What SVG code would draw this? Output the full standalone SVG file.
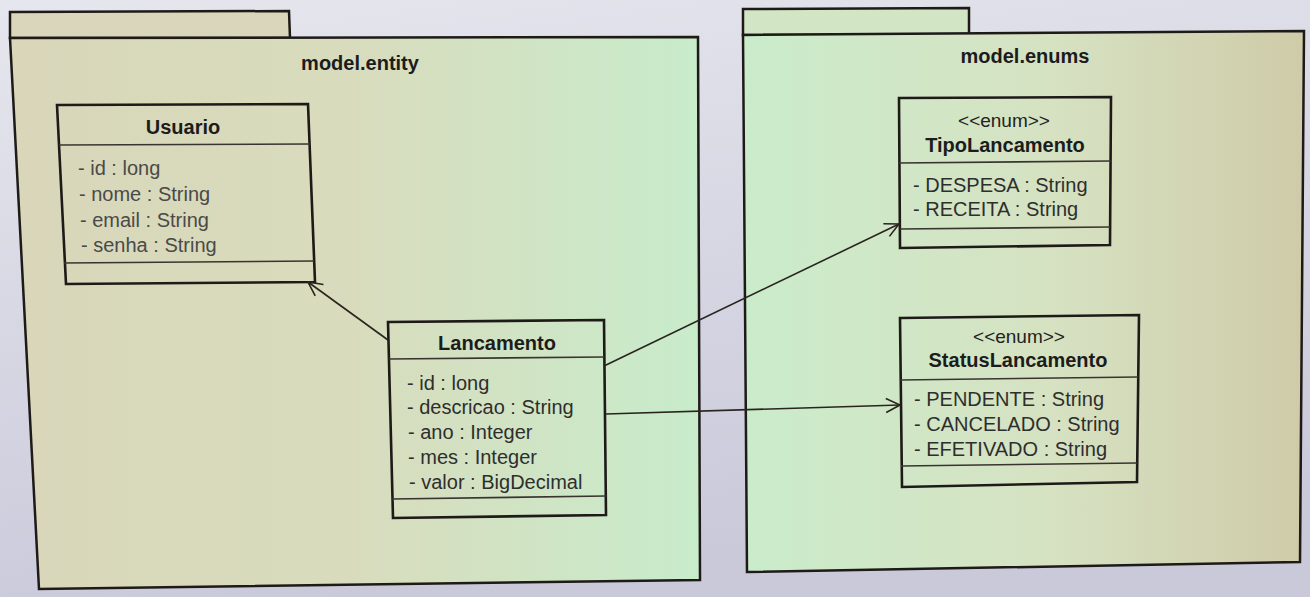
<svg xmlns="http://www.w3.org/2000/svg" width="1310" height="597" viewBox="0 0 1310 597">
<defs>
<linearGradient id="bg" x1="0" y1="0" x2="0.3" y2="1">
<stop offset="0" stop-color="#e6e6ee"/>
<stop offset="1" stop-color="#c9c9da"/>
</linearGradient>
<linearGradient id="pkgL" x1="0" y1="0" x2="1" y2="0">
<stop offset="0" stop-color="#d9d6ba"/>
<stop offset="0.5" stop-color="#d8dcbd"/>
<stop offset="1" stop-color="#c8eccb"/>
</linearGradient>
<linearGradient id="pkgR" x1="0" y1="0" x2="1" y2="0">
<stop offset="0" stop-color="#caeccb"/>
<stop offset="0.55" stop-color="#d6e2c2"/>
<stop offset="1" stop-color="#cfcba8"/>
</linearGradient>
<marker id="open" markerWidth="18" markerHeight="18" refX="15" refY="8" orient="auto" markerUnits="userSpaceOnUse">
<path d="M1,1 L15,8 L1,15" fill="none" stroke="#2a2420" stroke-width="1.6"/>
</marker>
</defs>
<style>
.pkg{stroke:#1e1a18;stroke-width:2.5}
.box{fill:none;stroke:#1e1a18;stroke-width:2.6}
.sep{stroke:#3a3430;stroke-width:1.6}
.ptitle{font-family:"Liberation Sans",Arial,sans-serif;font-size:20px;font-weight:bold;fill:#1c1c1c;text-anchor:middle}
.ctitle{font-family:"Liberation Sans",Arial,sans-serif;font-size:20px;font-weight:bold;fill:#1c1c1c;text-anchor:middle}
.stereo{font-family:"Liberation Sans",Arial,sans-serif;font-size:19px;fill:#222;text-anchor:middle}
.attr{font-family:"Liberation Sans",Arial,sans-serif;font-size:20px;fill:#2e2e2e}
.attrg{font-family:"Liberation Sans",Arial,sans-serif;font-size:20px;fill:#4a4a48}
.conn{fill:none;stroke:#2a2420;stroke-width:1.6}
</style>
<rect x="0" y="0" width="1310" height="597" fill="url(#bg)"/>

<g id="pkg-entity">
<polygon class="pkg" points="10,12 289,11 290,38 10,38" fill="#d9d6bb"/>
<polygon class="pkg" points="10,38 698,37 700,580 39,589" fill="url(#pkgL)"/>
<text class="ptitle" x="360" y="70">model.entity</text>
</g>

<g id="pkg-enums">
<polygon class="pkg" points="743,9 969,8 969,35 743,35" fill="#d2e6c6"/>
<polygon class="pkg" points="743,35 1304,31 1300,562 747,572" fill="url(#pkgR)"/>
<text class="ptitle" x="1025" y="63">model.enums</text>
</g>

<g id="Usuario">
<polygon class="box" points="57,105 308,104 315,282 66,284"/>
<line class="sep" x1="59" y1="145" x2="310" y2="144"/>
<line class="sep" x1="64" y1="263" x2="314" y2="261"/>
<text class="ctitle" x="183" y="134">Usuario</text>
<text class="attrg" x="78" y="175">- id : long</text>
<text class="attrg" x="79" y="201">- nome : String</text>
<text class="attrg" x="80" y="227">- email : String</text>
<text class="attrg" x="81" y="252">- senha : String</text>
</g>

<g id="Lancamento">
<polygon class="box" points="388,322 604,320 606,515 393,518"/>
<line class="sep" x1="389" y1="359" x2="604" y2="357"/>
<line class="sep" x1="392" y1="499" x2="606" y2="496"/>
<text class="ctitle" x="497" y="350">Lancamento</text>
<text class="attr" x="407" y="390">- id : long</text>
<text class="attr" x="407" y="414">- descricao : String</text>
<text class="attr" x="408" y="439">- ano : Integer</text>
<text class="attr" x="408" y="464">- mes : Integer</text>
<text class="attr" x="409" y="489">- valor : BigDecimal</text>
</g>

<g id="TipoLancamento">
<polygon class="box" points="899,98 1111,97 1110,245 900,248"/>
<line class="sep" x1="899" y1="163" x2="1111" y2="161"/>
<line class="sep" x1="900" y1="229" x2="1110" y2="227"/>
<text class="stereo" x="1004" y="127">&lt;&lt;enum&gt;&gt;</text>
<text class="ctitle" x="1005" y="152">TipoLancamento</text>
<text class="attr" x="913" y="192">- DESPESA : String</text>
<text class="attr" x="913" y="216">- RECEITA : String</text>
</g>

<g id="StatusLancamento">
<polygon class="box" points="900,318 1139,315 1137,482 902,487"/>
<line class="sep" x1="900" y1="380" x2="1138" y2="377"/>
<line class="sep" x1="901" y1="466" x2="1137" y2="463"/>
<text class="stereo" x="1019" y="343">&lt;&lt;enum&gt;&gt;</text>
<text class="ctitle" x="1018" y="367">StatusLancamento</text>
<text class="attr" x="914" y="406">- PENDENTE : String</text>
<text class="attr" x="914" y="431">- CANCELADO : String</text>
<text class="attr" x="914" y="456">- EFETIVADO : String</text>
</g>

<g id="connectors">
<line class="conn" x1="388" y1="340" x2="308" y2="282" marker-end="url(#open)"/>
<line class="conn" x1="604" y1="366" x2="899" y2="224" marker-end="url(#open)"/>
<line class="conn" x1="606" y1="414" x2="900" y2="405" marker-end="url(#open)"/>
</g>
</svg>
